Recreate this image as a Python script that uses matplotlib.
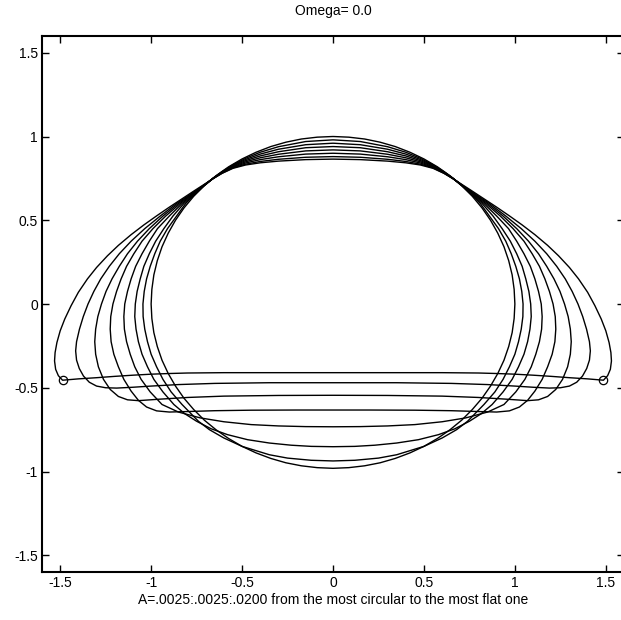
import matplotlib
matplotlib.use("Agg")
import matplotlib.pyplot as plt
import numpy as np

plt.rcParams['font.family'] = ['Liberation Sans', 'DejaVu Sans']
plt.rcParams['axes.unicode_minus'] = False

A_values = [0.0025, 0.0050, 0.0075, 0.0100, 0.0125, 0.0150, 0.0175, 0.0200]

# right-half outlines (x >= 0), top centre -> bottom centre
c1_x = [0, 0.087, 0.174, 0.259, 0.342, 0.423, 0.5, 0.574, 0.643, 0.707, 0.766, 0.819, 0.866, 0.906, 0.94, 0.966, 0.985, 0.996, 1.0,
        0.996, 0.985, 0.966, 0.94, 0.906, 0.866, 0.819, 0.766, 0.707, 0.643, 0.574, 0.5, 0.423, 0.342, 0.259, 0.174, 0.087, 0]
c1_y = [1.0, 0.996, 0.985, 0.966, 0.94, 0.906, 0.866, 0.819, 0.766, 0.707, 0.643, 0.574, 0.5, 0.423, 0.342, 0.259, 0.174, 0.087, 0.0,
        -0.086, -0.171, -0.254, -0.336, -0.415, -0.49, -0.563, -0.63, -0.694, -0.751, -0.803, -0.85, -0.889, -0.922, -0.948, -0.966, -0.977, -0.981]

c2_x = [0, 0.15, 0.3, 0.4, 0.48, 0.55, 0.61, 0.66, 0.72, 0.77, 0.81, 0.86, 0.91, 0.95, 0.98, 1.005, 1.025, 1.038, 1.045,
        1.044, 1.035, 1.02, 1.0, 0.97, 0.935, 0.89, 0.83, 0.74, 0.68, 0.6, 0.5, 0.35, 0.25, 0.12, 0]
c2_y = [0.98, 0.970, 0.939, 0.906, 0.870, 0.831, 0.790, 0.750, 0.695, 0.645, 0.6, 0.525, 0.45, 0.375, 0.3, 0.225, 0.15, 0.075, 0.0,
        -0.075, -0.15, -0.225, -0.3, -0.375, -0.45, -0.525, -0.6, -0.7, -0.75, -0.8, -0.85, -0.9, -0.92, -0.933, -0.937]

c3_x = [0, 0.15, 0.3, 0.4, 0.48, 0.55, 0.61, 0.66, 0.72, 0.77, 0.82, 0.88, 0.93, 0.975, 1.01, 1.04, 1.06, 1.077, 1.087,
        1.09, 1.083, 1.07, 1.05, 1.02, 0.985, 0.935, 0.875, 0.815, 0.75, 0.67, 0.58, 0.47, 0.35, 0.23, 0.12, 0]
c3_y = [0.96, 0.951, 0.924, 0.895, 0.863, 0.828, 0.788, 0.75, 0.697, 0.65, 0.6, 0.525, 0.45, 0.375, 0.3, 0.225, 0.15, 0.075, 0.0,
        -0.075, -0.15, -0.225, -0.3, -0.375, -0.45, -0.525, -0.6, -0.655, -0.7, -0.745, -0.78, -0.81, -0.83, -0.843, -0.85, -0.852]

c4_x = [0, 0.15, 0.3, 0.4, 0.48, 0.55, 0.61, 0.66, 0.72, 0.775, 0.83, 0.9, 0.965, 1.01, 1.05, 1.085, 1.11, 1.13, 1.145,
        1.15, 1.147, 1.135, 1.115, 1.09, 1.055, 1.005, 0.94, 0.85, 0.73, 0.6, 0.45, 0.3, 0.15, 0]
c4_y = [0.94, 0.933, 0.909, 0.884, 0.856, 0.824, 0.787, 0.75, 0.7, 0.65, 0.6, 0.525, 0.45, 0.375, 0.3, 0.225, 0.15, 0.075, 0.0,
        -0.075, -0.15, -0.225, -0.3, -0.375, -0.45, -0.525, -0.6, -0.645, -0.68, -0.703, -0.72, -0.728, -0.732, -0.733]

c5_x = [0, 0.15, 0.3, 0.4, 0.48, 0.55, 0.61, 0.66, 0.72, 0.78, 0.84, 0.92, 0.99, 1.05, 1.095, 1.135, 1.165, 1.19, 1.21,
        1.222, 1.225, 1.22, 1.205, 1.18, 1.15, 1.11, 1.07, 1.025, 0.97, 0.9, 0.8, 0.65, 0.45, 0.2, 0]
c5_y = [0.92, 0.914, 0.894, 0.873, 0.849, 0.82, 0.785, 0.749, 0.7, 0.65, 0.6, 0.525, 0.45, 0.375, 0.3, 0.225, 0.15, 0.075, 0.0,
        -0.075, -0.15, -0.225, -0.3, -0.375, -0.45, -0.52, -0.575, -0.615, -0.638, -0.645, -0.642, -0.637, -0.634, -0.633, -0.633]

c6_x = [0, 0.15, 0.3, 0.4, 0.48, 0.55, 0.61, 0.66, 0.72, 0.785, 0.85, 0.935, 1.01, 1.075, 1.13, 1.175, 1.215, 1.248, 1.273,
        1.293, 1.305, 1.31, 1.305, 1.29, 1.262, 1.225, 1.18, 1.13, 1.07, 0.95, 0.8, 0.6, 0.3, 0]
c6_y = [0.9, 0.895, 0.879, 0.862, 0.842, 0.816, 0.783, 0.749, 0.7, 0.65, 0.6, 0.525, 0.45, 0.375, 0.3, 0.225, 0.15, 0.075, 0.0,
        -0.075, -0.15, -0.225, -0.3, -0.375, -0.45, -0.51, -0.552, -0.572, -0.577, -0.568, -0.558, -0.55, -0.546, -0.545]

c7_x = [0, 0.15, 0.3, 0.4, 0.48, 0.55, 0.61, 0.66, 0.72, 0.79, 0.86, 0.95, 1.035, 1.11, 1.175, 1.23, 1.277, 1.315, 1.347,
        1.373, 1.394, 1.41, 1.415, 1.41, 1.395, 1.372, 1.34, 1.3, 1.25, 1.19, 1.1, 1.0, 0.85, 0.65, 0.35, 0]
c7_y = [0.88, 0.876, 0.864, 0.851, 0.835, 0.813, 0.781, 0.748, 0.702, 0.65, 0.6, 0.525, 0.45, 0.375, 0.3, 0.225, 0.15, 0.075, 0.0,
        -0.075, -0.15, -0.225, -0.28, -0.335, -0.385, -0.43, -0.467, -0.49, -0.5, -0.502, -0.497, -0.49, -0.481, -0.474, -0.47, -0.47]

c8_x = [0, 0.15, 0.3, 0.4, 0.48, 0.55, 0.61, 0.66, 0.7, 0.76, 0.83, 0.9, 0.97, 1.04, 1.11, 1.18, 1.24, 1.3, 1.35, 1.4, 1.44,
        1.475, 1.5, 1.518, 1.528, 1.531, 1.525, 1.51, 1.487,
        1.4, 1.3, 1.2, 1.1, 1.0, 0.9, 0.8, 0.6, 0.3, 0]
c8_y = [0.865, 0.862, 0.853, 0.843, 0.83, 0.81, 0.78, 0.748, 0.72, 0.678, 0.628, 0.578, 0.526, 0.472, 0.414, 0.35, 0.288, 0.218, 0.15, 0.07, -0.01,
        -0.09, -0.16, -0.23, -0.29, -0.34, -0.39, -0.428, -0.455,
        -0.447, -0.44, -0.432, -0.425, -0.419, -0.415, -0.412, -0.41, -0.41, -0.41]

curves = [(c1_x, c1_y), (c2_x, c2_y), (c3_x, c3_y), (c4_x, c4_y),
          (c5_x, c5_y), (c6_x, c6_y), (c7_x, c7_y), (c8_x, c8_y)]

# end points of the flattest profile, marked with circles
end_x = [-1.487, 1.487]
end_y = [-0.455, -0.455]

xticks = [-1.5, -1, -0.5, 0, 0.5, 1, 1.5]
yticks = [-1.5, -1, -0.5, 0, 0.5, 1, 1.5]
xtick_labels = ['-1.5', '-1', '-0.5', '0', '0.5', '1', '1.5']
ytick_labels = ['-1.5', '-1', '-0.5', '0', '0.5', '1', '1.5']

fig = plt.figure(figsize=(6.21, 6.20), dpi=100)
ax = fig.add_axes([42/621, 48/620, 582/621, 536/620])

for cx, cy in curves:
    cx = np.asarray(cx, float)
    cy = np.asarray(cy, float)
    # closed outline: right half top->bottom, then mirrored left half bottom->top
    full_x = np.concatenate([cx, -cx[::-1][1:]])
    full_y = np.concatenate([cy, cy[::-1][1:]])
    ax.plot(full_x, full_y, color='black', lw=1.0,
            solid_joinstyle='round', solid_capstyle='butt')

ax.plot(end_x, end_y, 'o', color='black', mfc='none', ms=6, mew=0.9)

ax.set_xlim(-1.6, 1.6)
ax.set_ylim(-1.6, 1.6)
ax.set_xticks(xticks)
ax.set_xticklabels(xtick_labels)
ax.set_yticks(yticks)
ax.set_yticklabels(ytick_labels)
ax.tick_params(direction='in', top=True, right=True, length=5, width=1, labelsize=10, pad=3)
for s in ax.spines.values():
    s.set_linewidth(1.5)

ax.set_title('Omega= 0.0', fontsize=10, pad=15)
ax.set_xlabel('A=.0025:.0025:.0200 from the most circular to the most flat one', fontsize=10, labelpad=2)

fig.savefig('out.png', dpi=100)
